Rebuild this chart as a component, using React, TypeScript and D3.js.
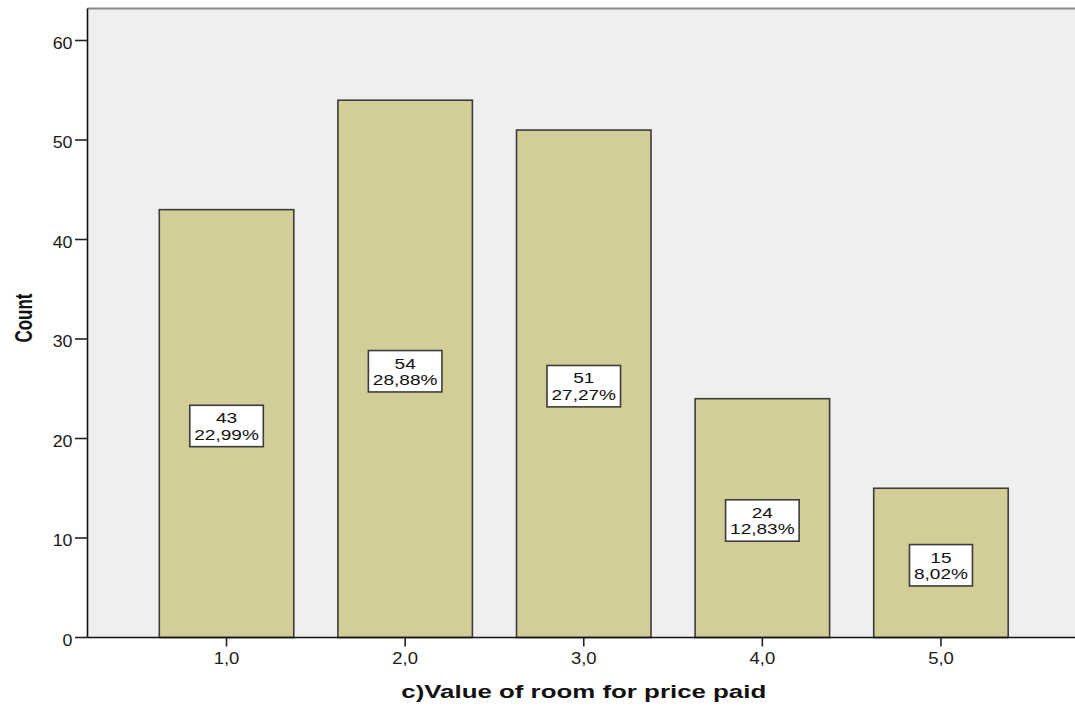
import React, { useEffect, useRef } from "react";
import * as d3 from "d3";

const categories = ["1,0", "2,0", "3,0", "4,0", "5,0"];
const counts = [43, 54, 51, 24, 15];
const percents = ["22,99%", "28,88%", "27,27%", "12,83%", "8,02%"];
const yTicks = [0, 10, 20, 30, 40, 50, 60];
const xTitle = "c)Value of room for price paid";
const yTitle = "Count";

const W = 1075;
const H = 708;

export default function App() {
  const ref = useRef<SVGSVGElement>(null);

  useEffect(() => {
    const svg = d3.select(ref.current);
    svg.selectAll("*").remove();

    const left = 87.5, right = 1080, top = 8.5, bottom = 637.5;
    const x = d3.scaleBand<string>().domain(categories).range([left, right]).paddingInner(0.247).paddingOuter(0.402);
    const y = d3.scaleLinear().domain([0, 60]).range([bottom, 40.5]);

    const font = "'Liberation Sans', Arial, sans-serif";

    // plot background
    svg.append("rect").attr("x", left).attr("y", top).attr("width", W - left).attr("height", bottom - top).attr("fill", "#efefef");
    // top border
    svg.append("line").attr("x1", left).attr("x2", W).attr("y1", top).attr("y2", top).attr("stroke", "#8a8a8a").attr("stroke-width", 2);

    // bars
    svg.selectAll("rect.bar").data(categories).enter().append("rect")
      .attr("class", "bar")
      .attr("x", (d) => x(d)!)
      .attr("y", (d, i) => y(counts[i]))
      .attr("width", x.bandwidth())
      .attr("height", (d, i) => bottom - y(counts[i]))
      .attr("fill", "#d3ce97")
      .attr("stroke", "#3c3c3c")
      .attr("stroke-width", 1.6);

    // axes lines
    svg.append("line").attr("x1", left).attr("x2", left).attr("y1", top).attr("y2", bottom).attr("stroke", "#111").attr("stroke-width", 1.6);
    svg.append("line").attr("x1", left).attr("x2", W).attr("y1", bottom).attr("y2", bottom).attr("stroke", "#111").attr("stroke-width", 1.6);

    // y ticks
    yTicks.forEach((t) => {
      svg.append("line").attr("x1", 75).attr("x2", left).attr("y1", y(t)).attr("y2", y(t)).attr("stroke", "#222").attr("stroke-width", 1.6);
      svg.append("text")
        .attr("transform", `translate(72.5,${y(t) + 8}) scale(1.08,1)`)
        .attr("text-anchor", "end")
        .attr("font-family", font).attr("font-size", 16.5).attr("fill", "#1a1a1a")
        .text(String(t));
    });

    // x ticks
    categories.forEach((c) => {
      const cx = x(c)! + x.bandwidth() / 2;
      svg.append("line").attr("x1", cx).attr("x2", cx).attr("y1", bottom).attr("y2", bottom + 9).attr("stroke", "#222").attr("stroke-width", 1.6);
      svg.append("text")
        .attr("transform", `translate(${cx},${bottom + 26.5}) scale(1.12,1)`)
        .attr("text-anchor", "middle")
        .attr("font-family", font).attr("font-size", 16.5).attr("fill", "#1a1a1a")
        .text(c);
    });

    // data labels
    const sx = 1.27;
    categories.forEach((c, i) => {
      const cx = x(c)! + x.bandwidth() / 2;
      const mid = (y(counts[i]) + bottom) / 2 + 2.4;
      const g = svg.append("g");
      const rect = g.append("rect");
      const t1 = g.append("text")
        .attr("transform", `translate(${cx},${mid - 20.7 + 18}) scale(${sx},1)`)
        .attr("text-anchor", "middle").attr("font-family", font).attr("font-size", 15).attr("fill", "#111")
        .text(String(counts[i]));
      const t2 = g.append("text")
        .attr("transform", `translate(${cx},${mid - 20.7 + 34.5}) scale(${sx},1)`)
        .attr("text-anchor", "middle").attr("font-family", font).attr("font-size", 15).attr("fill", "#111")
        .text(percents[i]);
      const w = Math.max((t1.node() as SVGTextElement).getComputedTextLength(), (t2.node() as SVGTextElement).getComputedTextLength()) * sx + 9;
      rect.attr("x", cx - w / 2).attr("y", mid - 20.7).attr("width", w).attr("height", 41.4)
        .attr("fill", "#fff").attr("stroke", "#3c3c3c").attr("stroke-width", 1.6);
    });

    // axis titles
    svg.append("text")
      .attr("x", (left + right) / 2).attr("y", 697.5)
      .attr("text-anchor", "middle")
      .attr("font-family", font).attr("font-weight", "bold").attr("font-size", 17.5).attr("fill", "#111")
      .attr("textLength", 365).attr("lengthAdjust", "spacingAndGlyphs")
      .text(xTitle);
    svg.append("text")
      .attr("transform", `translate(32,318) rotate(-90) scale(1,1.45)`)
      .attr("text-anchor", "middle")
      .attr("font-family", font).attr("font-weight", "bold").attr("font-size", 17).attr("fill", "#111")
      .text(yTitle);
  }, []);

  return (
    <svg ref={ref} width={W} height={H} style={{ position: "absolute", left: 0, top: 0, background: "#fff" }} />
  );
}
